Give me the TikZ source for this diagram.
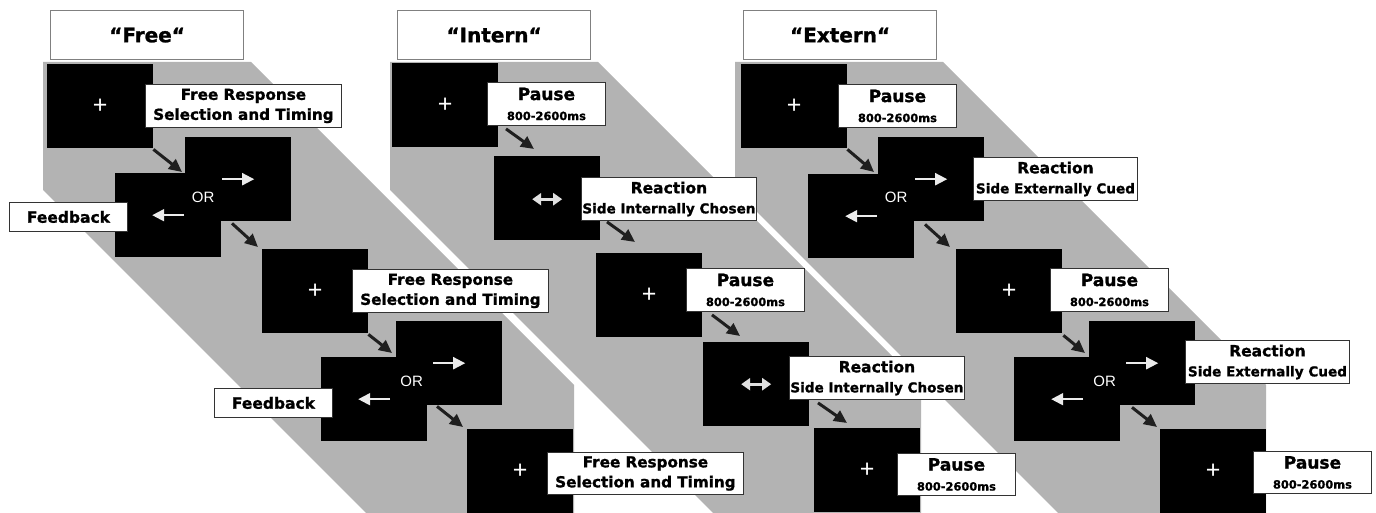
\documentclass[tikz,border=0pt]{standalone}
\usepackage{fontspec}
\usepackage{tikz}
\usetikzlibrary{arrows.meta,calc}
\newfontfamily\tagfont{DejaVu Sans}[BoldFeatures={FakeBold=1.2}]
\newfontfamily\orfont{Liberation Sans}
\definecolor{bandgray}{RGB}{179,179,179}
\definecolor{rimgray}{RGB}{128,128,128}
\newcommand{\pausetext}{{\fontsize{17}{20}\selectfont Pause}\\{\fontsize{11.4}{13}\selectfont 800-2600ms}}
\newcommand{\reacttext}[1]{{\fontsize{15.5}{19}\selectfont Reaction}\\{\fontsize{13.6}{16}\selectfont Side #1}}
\newcommand{\freetext}{Free Response\\Selection and Timing}

\begin{document}
\begin{tikzpicture}[x=1pt,y=-1pt,
  band/.style={fill=bandgray},
  heading/.style={draw=rimgray,line width=1.2pt,fill=white,anchor=north west,minimum width=193pt,minimum height=49pt,inner sep=0pt,font=\tagfont\bfseries\fontsize{20}{24}\selectfont},
  screen/.style={fill=black,anchor=north west,minimum width=106pt,minimum height=84pt,inner sep=0pt,text=white,font=\orfont\fontsize{25}{25}\selectfont},
  tag/.style={draw=black!80,line width=0.9pt,fill=white,anchor=north west,minimum height=43pt,inner sep=0pt,align=center,font=\tagfont\bfseries\fontsize{15.2}{20}\selectfont},
  pausetag/.style={tag,minimum width=118pt},
  fbtag/.style={tag,minimum width=118pt,minimum height=29pt,font=\tagfont\bfseries\fontsize{15.5}{19}\selectfont},
  nextarrow/.style={-{Triangle[length=13pt,width=12pt]},line width=3pt,draw=black!88},
  sidearrow/.style={-{Triangle[length=12pt,width=12pt]},line width=2pt,draw=white!92!black},
  bothcue/.style={{Triangle[length=9pt,width=12pt]}-{Triangle[length=9pt,width=12pt]},line width=3pt,draw=white!88!black},
  ortext/.style={text=white,font=\orfont\fontsize{15}{18}\selectfont}]
  \useasboundingbox (0,0) rectangle (1376,513);
  \foreach \x in {43,390,735}
    \fill[band] (\x,62) -- (\x+208,62) -- (\x+531,385) -- (\x+531,513) -- (\x+323,513) -- (\x,190) -- cycle;

  \node[heading] (ftitle) at (50,10) {“Free“};
  \node[heading] (ititle) at (397,10) {“Intern“};
  \node[heading] (etitle) at (743,10) {“Extern“};

  \node[screen] (fsq1) at (47,64) {+};
  \node[screen] (forB1) at (185,137) {};
  \node[screen] (forF1) at (115,173) {};
  \node[screen] (fsq3) at (262,249) {+};
  \node[screen] (forB2) at (396,321) {};
  \node[screen] (forF2) at (321,357) {};
  \node[screen] (fsq5) at (467,429) {+};
  \draw[sidearrow] ([shift={(-16,0)}]forB1.center) -- ([shift={(16,0)}]forB1.center);
  \draw[sidearrow] ([shift={(16,0)}]forF1.center) -- ([shift={(-16,0)}]forF1.center);
  \draw[sidearrow] ([shift={(-16,0)}]forB2.center) -- ([shift={(16,0)}]forB2.center);
  \draw[sidearrow] ([shift={(16,0)}]forF2.center) -- ([shift={(-16,0)}]forF2.center);
  \node[ortext] (for1) at ($(forB1.center)!0.5!(forF1.center)$) {OR};
  \node[ortext] (for2) at ($(forB2.center)!0.5!(forF2.center)$) {OR};

  \node[screen] (isq1) at (392,63) {+};
  \node[screen] (idsq1) at (494,156) {};
  \node[screen] (isq3) at (596,253) {+};
  \node[screen] (idsq2) at (703,342) {};
  \node[screen] (isq5) at (814,428) {+};
  \draw[bothcue] ([shift={(-15,1)}]idsq1.center) -- ([shift={(15,1)}]idsq1.center);
  \draw[bothcue] ([shift={(-15,0)}]idsq2.center) -- ([shift={(15,0)}]idsq2.center);

  \node[screen] (esq1) at (741,64) {+};
  \node[screen] (eorB1) at (878,137) {};
  \node[screen] (eorF1) at (808,174) {};
  \node[screen] (esq3) at (956,249) {+};
  \node[screen] (eorB2) at (1089,321) {};
  \node[screen] (eorF2) at (1014,357) {};
  \node[screen] (esq5) at (1160,429) {+};
  \draw[sidearrow] ([shift={(-16,0)}]eorB1.center) -- ([shift={(16,0)}]eorB1.center);
  \draw[sidearrow] ([shift={(16,0)}]eorF1.center) -- ([shift={(-16,0)}]eorF1.center);
  \draw[sidearrow] ([shift={(-16,0)}]eorB2.center) -- ([shift={(16,0)}]eorB2.center);
  \draw[sidearrow] ([shift={(16,0)}]eorF2.center) -- ([shift={(-16,0)}]eorF2.center);
  \node[ortext] (eor1) at ($(eorB1.center)!0.5!(eorF1.center)$) {OR};
  \node[ortext] (eor2) at ($(eorB2.center)!0.5!(eorF2.center)$) {OR};

  \node[tag,minimum width=196pt] (flab1) at (145,84) {\freetext};
  \node[fbtag] (ffb1) at (9,202) {Feedback};
  \node[tag,minimum width=196pt] (flab2) at (352,269) {\freetext};
  \node[fbtag] (ffb2) at (214,388) {Feedback};
  \node[tag,minimum width=196pt,minimum height=42pt] (flab3) at (547,452) {\freetext};

  \node[pausetag] (ilab1) at (487,82) {\pausetext};
  \node[tag,minimum width=175pt] (ilab2) at (581,177) {\reacttext{Internally Chosen}};
  \node[pausetag] (ilab3) at (686,268) {\pausetext};
  \node[tag,minimum width=175pt] (ilab4) at (789,356) {\reacttext{Internally Chosen}};
  \node[pausetag,minimum height=42pt] (ilab5) at (897,453) {\pausetext};

  \node[pausetag] (elab1) at (838,84) {\pausetext};
  \node[tag,minimum width=164pt] (elab2) at (973,157) {\reacttext{Externally Cued}};
  \node[pausetag] (elab3) at (1050,268) {\pausetext};
  \node[tag,minimum width=164pt] (elab4) at (1185,340) {\reacttext{Externally Cued}};
  \node[pausetag,minimum height=42pt] (elab5) at (1253,451) {\pausetext};

  \draw[nextarrow] ([shift={(0,1)}]fsq1.south east) -- ([shift={(67,-1)}]forF1.north west);
  \draw[nextarrow] ([shift={(47,2)}]forB1.south west) -- ([shift={(-4,-2)}]fsq3.north west);
  \draw[nextarrow] ([shift={(0,1)}]fsq3.south east) -- ([shift={(71,-4)}]forF2.north west);
  \draw[nextarrow] ([shift={(41,1)}]forB2.south west) -- ([shift={(-4,-2)}]fsq5.north west);

  \draw[nextarrow] ([shift={(19,3)}]ilab1.south west) -- ([shift={(40,-7)}]idsq1.north west);
  \draw[nextarrow] ([shift={(26,1)}]ilab2.south west) -- ([shift={(39,-11)}]isq3.north west);
  \draw[nextarrow] ([shift={(26,3)}]ilab3.south west) -- ([shift={(37,-6)}]idsq2.north west);
  \draw[nextarrow] ([shift={(29,3)}]ilab4.south west) -- ([shift={(33,-5)}]isq5.north west);

  \draw[nextarrow] ([shift={(0,1)}]esq1.south east) -- ([shift={(66,-2)}]eorF1.north west);
  \draw[nextarrow] ([shift={(47,3)}]eorB1.south west) -- ([shift={(-6,-2)}]esq3.north west);
  \draw[nextarrow] ([shift={(1,2)}]esq3.south east) -- ([shift={(71,-4)}]eorF2.north west);
  \draw[nextarrow] ([shift={(43,2)}]eorB2.south west) -- ([shift={(-3,-2)}]esq5.north west);
\end{tikzpicture}
\end{document}
